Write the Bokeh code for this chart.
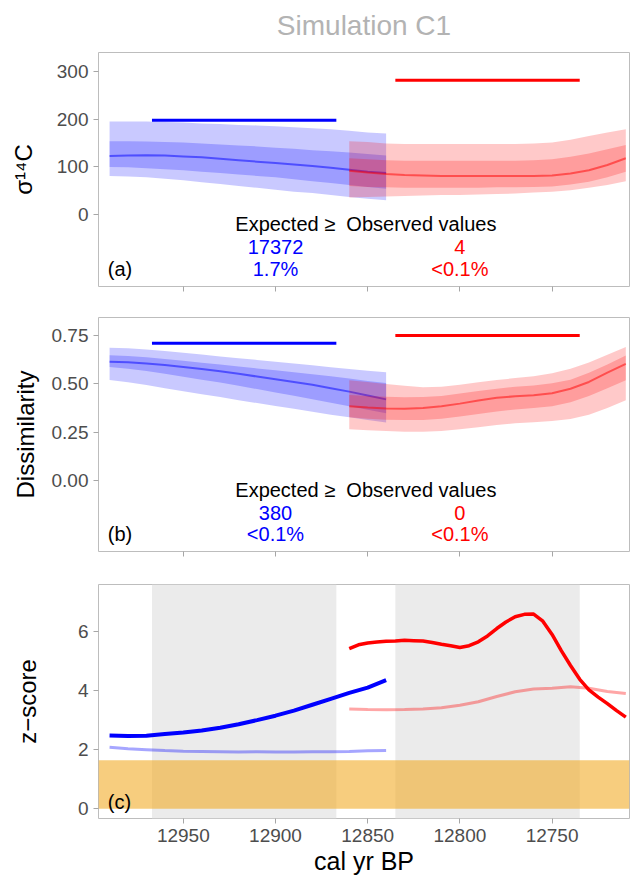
from bokeh.plotting import figure
from bokeh.layouts import column
from bokeh.models import (Range1d, FixedTicker, NumeralTickFormatter, BoxAnnotation,
                          ColumnDataSource, CustomJSTickFormatter)
from bokeh.embed import file_html
from bokeh.resources import INLINE
from bokeh.core.properties import value

FONT = "Liberation Sans"

# ---------------- data ----------------
years_blue = [12990, 12980, 12970, 12960, 12950, 12940, 12930, 12920,
              12910, 12900, 12890, 12880, 12870, 12860, 12850, 12840]
years_red = [12860, 12850, 12840, 12830, 12820, 12810, 12800, 12790,
             12780, 12770, 12760, 12750, 12740, 12730, 12720, 12710]

# panel (a): sigma 14C expected distribution (median, 50% and 95% bands)
sig_blue_mid = [123, 124, 124.5, 124, 122, 120, 117, 114, 111, 108, 105, 102, 98, 94, 90, 87]
sig_blue_in_hi = [154, 154, 153, 152, 151, 149, 147, 145, 143, 140, 138, 135, 133, 130, 127, 124]
sig_blue_in_lo = [100, 99, 97, 95, 93, 90, 87, 84, 81, 78, 74, 70, 66, 62, 58, 54]
sig_blue_out_hi = [195, 195, 195, 194, 193, 191, 190, 188, 187, 185, 183, 181, 179, 176, 172, 170]
sig_blue_out_lo = [81, 80, 78, 75, 72, 68, 64, 60, 56, 52, 48, 45, 41, 37, 33, 30]

sig_red_mid = [92, 88, 85, 83, 82, 81, 81, 81, 81, 81, 81, 82, 86, 93, 104, 118]
sig_red_in_hi = [118, 116, 114, 113, 113, 113, 113, 113, 113, 113, 114, 116, 121, 128, 137, 146]
sig_red_in_lo = [60, 58, 57, 56, 56, 56, 56, 56, 57, 57, 58, 59, 63, 69, 78, 90]
sig_red_out_hi = [154, 152, 149, 148, 148, 148, 148, 148, 148, 148, 149, 151, 157, 165, 172, 179]
sig_red_out_lo = [36, 37, 38, 39, 40, 41, 41, 42, 43, 44, 46, 48, 51, 56, 62, 70]

# panel (b): dissimilarity
dis_blue_mid = [0.615, 0.612, 0.605, 0.597, 0.587, 0.577, 0.565, 0.552,
                0.538, 0.524, 0.510, 0.495, 0.478, 0.460, 0.440, 0.420]
dis_blue_out_hi = [0.687, 0.684, 0.678, 0.670, 0.661, 0.652, 0.642, 0.633,
                   0.624, 0.614, 0.605, 0.596, 0.586, 0.577, 0.568, 0.560]
dis_blue_out_lo = [0.520, 0.508, 0.494, 0.478, 0.462, 0.447, 0.432, 0.416,
                   0.401, 0.386, 0.371, 0.356, 0.341, 0.327, 0.313, 0.300]
dis_blue_in_hi = [0.648, 0.644, 0.637, 0.628, 0.619, 0.609, 0.600, 0.590,
                  0.580, 0.570, 0.560, 0.550, 0.540, 0.528, 0.515, 0.505]
dis_blue_in_lo = [0.587, 0.578, 0.566, 0.552, 0.537, 0.522, 0.507, 0.490,
                  0.473, 0.456, 0.439, 0.421, 0.403, 0.384, 0.366, 0.348]

dis_red_mid = [0.385, 0.378, 0.373, 0.372, 0.375, 0.385, 0.398, 0.414,
               0.428, 0.436, 0.441, 0.452, 0.475, 0.510, 0.558, 0.603]
dis_red_out_hi = [0.519, 0.510, 0.500, 0.490, 0.483, 0.485, 0.495, 0.508,
                  0.520, 0.530, 0.540, 0.555, 0.578, 0.610, 0.650, 0.690]
dis_red_out_lo = [0.265, 0.260, 0.256, 0.253, 0.253, 0.257, 0.266, 0.276,
                  0.287, 0.296, 0.302, 0.308, 0.318, 0.340, 0.375, 0.416]
dis_red_in_hi = [0.442, 0.437, 0.433, 0.431, 0.432, 0.438, 0.450, 0.463,
                 0.475, 0.485, 0.492, 0.503, 0.522, 0.557, 0.600, 0.647]
dis_red_in_lo = [0.327, 0.320, 0.315, 0.313, 0.314, 0.320, 0.331, 0.344,
                 0.357, 0.368, 0.375, 0.385, 0.405, 0.437, 0.478, 0.519]

# observed windows and observed values
win_blue = [12967, 12867]
win_red = [12835, 12735]
obs_sigma = [198, 282]      # blue, red
obs_dissim = [0.71, 0.75]   # blue, red

# panel (c): z-scores
z_blue_sigma = [2.48, 2.46, 2.47, 2.53, 2.58, 2.65, 2.74, 2.86,
                3.00, 3.15, 3.32, 3.52, 3.72, 3.92, 4.10, 4.35]
z_blue_dissim = [2.08, 2.03, 2.00, 1.97, 1.95, 1.94, 1.93, 1.92,
                 1.93, 1.92, 1.92, 1.93, 1.93, 1.94, 1.96, 1.97]
years_red_z = [12860, 12855, 12850, 12845, 12840, 12835, 12830, 12825, 12820,
               12815, 12810, 12805, 12800, 12795, 12790, 12785, 12780, 12775,
               12770, 12765, 12760, 12755, 12750, 12745, 12740, 12735, 12730,
               12725, 12720, 12715, 12710]
z_red_sigma = [5.42, 5.55, 5.61, 5.64, 5.67, 5.68, 5.70, 5.69, 5.68,
               5.63, 5.57, 5.52, 5.46, 5.52, 5.65, 5.85, 6.10, 6.32,
               6.50, 6.58, 6.59, 6.35, 5.90, 5.35, 4.85, 4.38, 4.02,
               3.78, 3.56, 3.32, 3.10]
z_red_dissim = [3.38, 3.36, 3.35, 3.36, 3.38, 3.42, 3.50, 3.62,
                3.80, 3.96, 4.05, 4.08, 4.13, 4.08, 3.97, 3.90]
z_threshold = 1.645

# annotation texts
header_text = "Expected \u2265\u00a0 Observed values"
counts_a = ["17372", "4"]
pcts_a = ["1.7%", "<0.1%"]
counts_b = ["380", "0"]
pcts_b = ["<0.1%", "<0.1%"]
label_years = [12900, 12800]

x_ticks = [12950, 12900, 12850, 12800, 12750]
BLUE = "#0000ff"
RED = "#ff0000"
TXT = "20px"

# ---------------- helpers ----------------
W = 630


def make_fig(height, top, bottom, yr, yticks):
    p = figure(width=W, height=height, output_backend="svg", toolbar_location=None,
               x_range=Range1d(12996, 12708), y_range=Range1d(*yr),
               min_border_left=98, min_border_right=1,
               min_border_top=top, min_border_bottom=bottom)
    p.grid.visible = False
    p.outline_line_color = "#bdbdbd"
    p.outline_line_width = 1
    p.background_fill_color = "white"
    for ax in (p.xaxis[0], p.yaxis[0]):
        ax.axis_line_color = None
        ax.major_tick_line_color = "#a6a6a6"
        ax.major_tick_out = 5
        ax.major_tick_in = 0
        ax.minor_tick_line_color = None
        ax.major_label_text_font = FONT
        ax.major_label_text_font_size = "19px"
        ax.major_label_text_color = "#4d4d4d"
        ax.axis_label_text_font = FONT
        ax.axis_label_text_font_size = "24px"
        ax.axis_label_text_font_style = "normal"
        ax.axis_label_text_color = "black"
    p.xaxis.ticker = FixedTicker(ticks=x_ticks)
    p.yaxis.ticker = FixedTicker(ticks=yticks)
    return p


def bands(p, xs, olo, ohi, ilo, ihi, mid, color):
    p.varea(x=xs, y1=olo, y2=ohi, fill_color=color, fill_alpha=0.21)
    p.varea(x=xs, y1=ilo, y2=ihi, fill_color=color, fill_alpha=0.22)
    p.line(x=xs, y=mid, line_color=color, line_alpha=0.5, line_width=2)


def annotate(p, ys, counts, pcts, tag, tag_y):
    p.text(x=[12851], y=[ys[0]], text=[header_text], text_font=value(FONT),
           text_font_size=TXT, text_align="center", text_baseline="middle",
           text_color="black")
    src = ColumnDataSource(dict(x=label_years * 2,
                                y=[ys[1], ys[1], ys[2], ys[2]],
                                t=counts + pcts,
                                c=[BLUE, RED, BLUE, RED]))
    p.text(x="x", y="y", text="t", text_color="c", source=src, text_font=value(FONT),
           text_font_size=TXT, text_align="center", text_baseline="middle")
    p.text(x=[12991], y=[tag_y], text=[tag], text_font=value(FONT),
           text_font_size=TXT, text_align="left", text_baseline="middle",
           text_color="black")


def hide_x_labels(p):
    p.xaxis.formatter = CustomJSTickFormatter(code="return '';")
    p.xaxis.major_label_standoff = 0


# ---------------- panel (a) ----------------
pa = make_fig(301, 52, 15, (-151, 340), [0, 100, 200, 300])
pa.title.text = "Simulation C1"
pa.title.align = "center"
pa.title.vertical_align = "top"
pa.title.text_font = FONT
pa.title.text_font_size = "28px"
pa.title.text_font_style = "normal"
pa.title.text_color = "#b3b3b3"
pa.title.standoff = 19
hide_x_labels(pa)
pa.yaxis.axis_label = "\u03c3\u00b9\u2074C"
pa.yaxis.axis_label_standoff = 17
bands(pa, years_blue, sig_blue_out_lo, sig_blue_out_hi, sig_blue_in_lo, sig_blue_in_hi, sig_blue_mid, BLUE)
bands(pa, years_red, sig_red_out_lo, sig_red_out_hi, sig_red_in_lo, sig_red_in_hi, sig_red_mid, RED)
pa.line(x=win_blue, y=[obs_sigma[0]] * 2, line_color=BLUE, line_width=3)
pa.line(x=win_red, y=[obs_sigma[1]] * 2, line_color=RED, line_width=3)
annotate(pa, [-19, -68, -114], counts_a, pcts_a, "(a)", -114)

# ---------------- panel (b) ----------------
pb = make_fig(266, 16, 16, (-0.366, 0.843), [0, 0.25, 0.5, 0.75])
hide_x_labels(pb)
pb.yaxis.formatter = NumeralTickFormatter(format="0.00")
pb.yaxis.axis_label = "Dissimilarity"
pb.yaxis.axis_label_standoff = 10
bands(pb, years_blue, dis_blue_out_lo, dis_blue_out_hi, dis_blue_in_lo, dis_blue_in_hi, dis_blue_mid, BLUE)
bands(pb, years_red, dis_red_out_lo, dis_red_out_hi, dis_red_in_lo, dis_red_in_hi, dis_red_mid, RED)
pb.line(x=win_blue, y=[obs_dissim[0]] * 2, line_color=BLUE, line_width=3)
pb.line(x=win_red, y=[obs_dissim[1]] * 2, line_color=RED, line_width=3)
annotate(pb, [-0.046, -0.166, -0.277], counts_b, pcts_b, "(b)", -0.277)

# ---------------- panel (c) ----------------
pc = make_fig(310, 17, 40, (-0.33, 7.59), [0, 2, 4, 6])
pc.xaxis.formatter = NumeralTickFormatter(format="0")
pc.xaxis.axis_label = "cal yr BP"
pc.xaxis.axis_label_text_font_size = "25px"
pc.xaxis.major_label_standoff = 5
pc.xaxis.axis_label_standoff = 2
pc.yaxis.axis_label = "z\u2212score"
pc.yaxis.axis_label_standoff = 34
for w in (win_blue, win_red):
    pc.add_layout(BoxAnnotation(left=w[1], right=w[0], fill_color="#ebebeb",
                                fill_alpha=1.0, line_color=None, level="underlay"))
pc.add_layout(BoxAnnotation(bottom=0, top=z_threshold, fill_color="#f2ae2e",
                            fill_alpha=0.62, line_color=None, level="underlay"))
pc.line(x=years_blue, y=z_blue_dissim, line_color=BLUE, line_alpha=0.35, line_width=3)
pc.line(x=years_red, y=z_red_dissim, line_color=RED, line_alpha=0.35, line_width=3)
pc.line(x=years_blue, y=z_blue_sigma, line_color=BLUE, line_width=4)
pc.line(x=years_red_z, y=z_red_sigma, line_color=RED, line_width=3.5)
pc.text(x=[12991], y=[0.22], text=["(c)"], text_font=value(FONT),
        text_font_size=TXT, text_align="left", text_baseline="middle",
        text_color="black")

layout = column(pa, pb, pc, spacing=0)
open("out.html", "w").write(file_html(layout, INLINE))
